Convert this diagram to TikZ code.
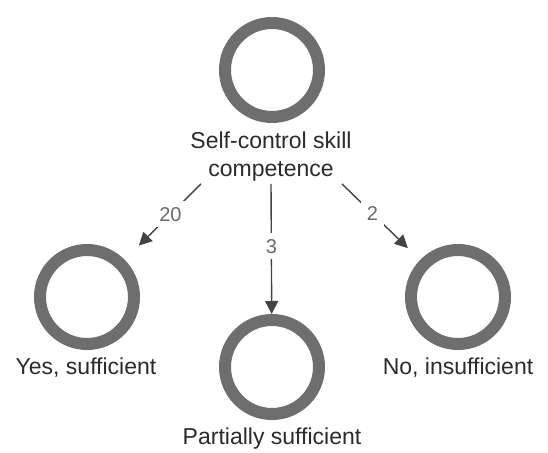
\documentclass[tikz,border=0pt]{standalone}
\usepackage{fontspec}
\setmainfont{Liberation Sans}
\usetikzlibrary{arrows.meta}
\definecolor{ringgray}{HTML}{6E6E6E}
\definecolor{linkgray}{HTML}{444444}
\definecolor{labeltext}{HTML}{2B2B2B}
\definecolor{countgray}{HTML}{6A6A6A}

\begin{document}
\begin{tikzpicture}[x=1pt, y=-1pt,
      ring/.style={circle, draw=ringgray, line width=12pt, minimum size=94pt, inner sep=0pt},
      caption/.style={text=labeltext, font=\fontsize{23}{28}\selectfont, align=center, inner sep=2pt},
      count/.style={text=countgray, font=\fontsize{20}{24}\selectfont, fill=white, inner sep=6pt},
      arrow/.style={-{Triangle[length=13pt, width=13pt]}, line width=1.4pt, linkgray},
    ]
    \useasboundingbox[fill=white] (0,0) rectangle (548,452);

    \node[ring] (sc) at (272,70) {};
    \node[caption] (scl) at (271,157) {Self-control skill\\competence};

    \node[ring] (ys) at (87,297) {};
    \node[caption] (ysl) at (86,368) {Yes, sufficient};
    \node[ring] (ps) at (272,367) {};
    \node[caption] (psl) at (272,439) {Partially sufficient};
    \node[ring] (ns) at (458,297) {};
    \node[caption] (nsl) at (458,368) {No, insufficient};

    \draw[arrow, shorten >=20pt] ([xshift=-70pt]scl.south) -- (ys) node[count, pos=0.40] (c20) {20};
    \draw[arrow] (scl.south) -- (ps) node[count, pos=0.48] (c3) {3};
    \draw[arrow, shorten >=17pt] ([xshift=71pt]scl.south) -- (ns) node[count, pos=0.39] (c2) {2};
  \end{tikzpicture}
\end{document}
